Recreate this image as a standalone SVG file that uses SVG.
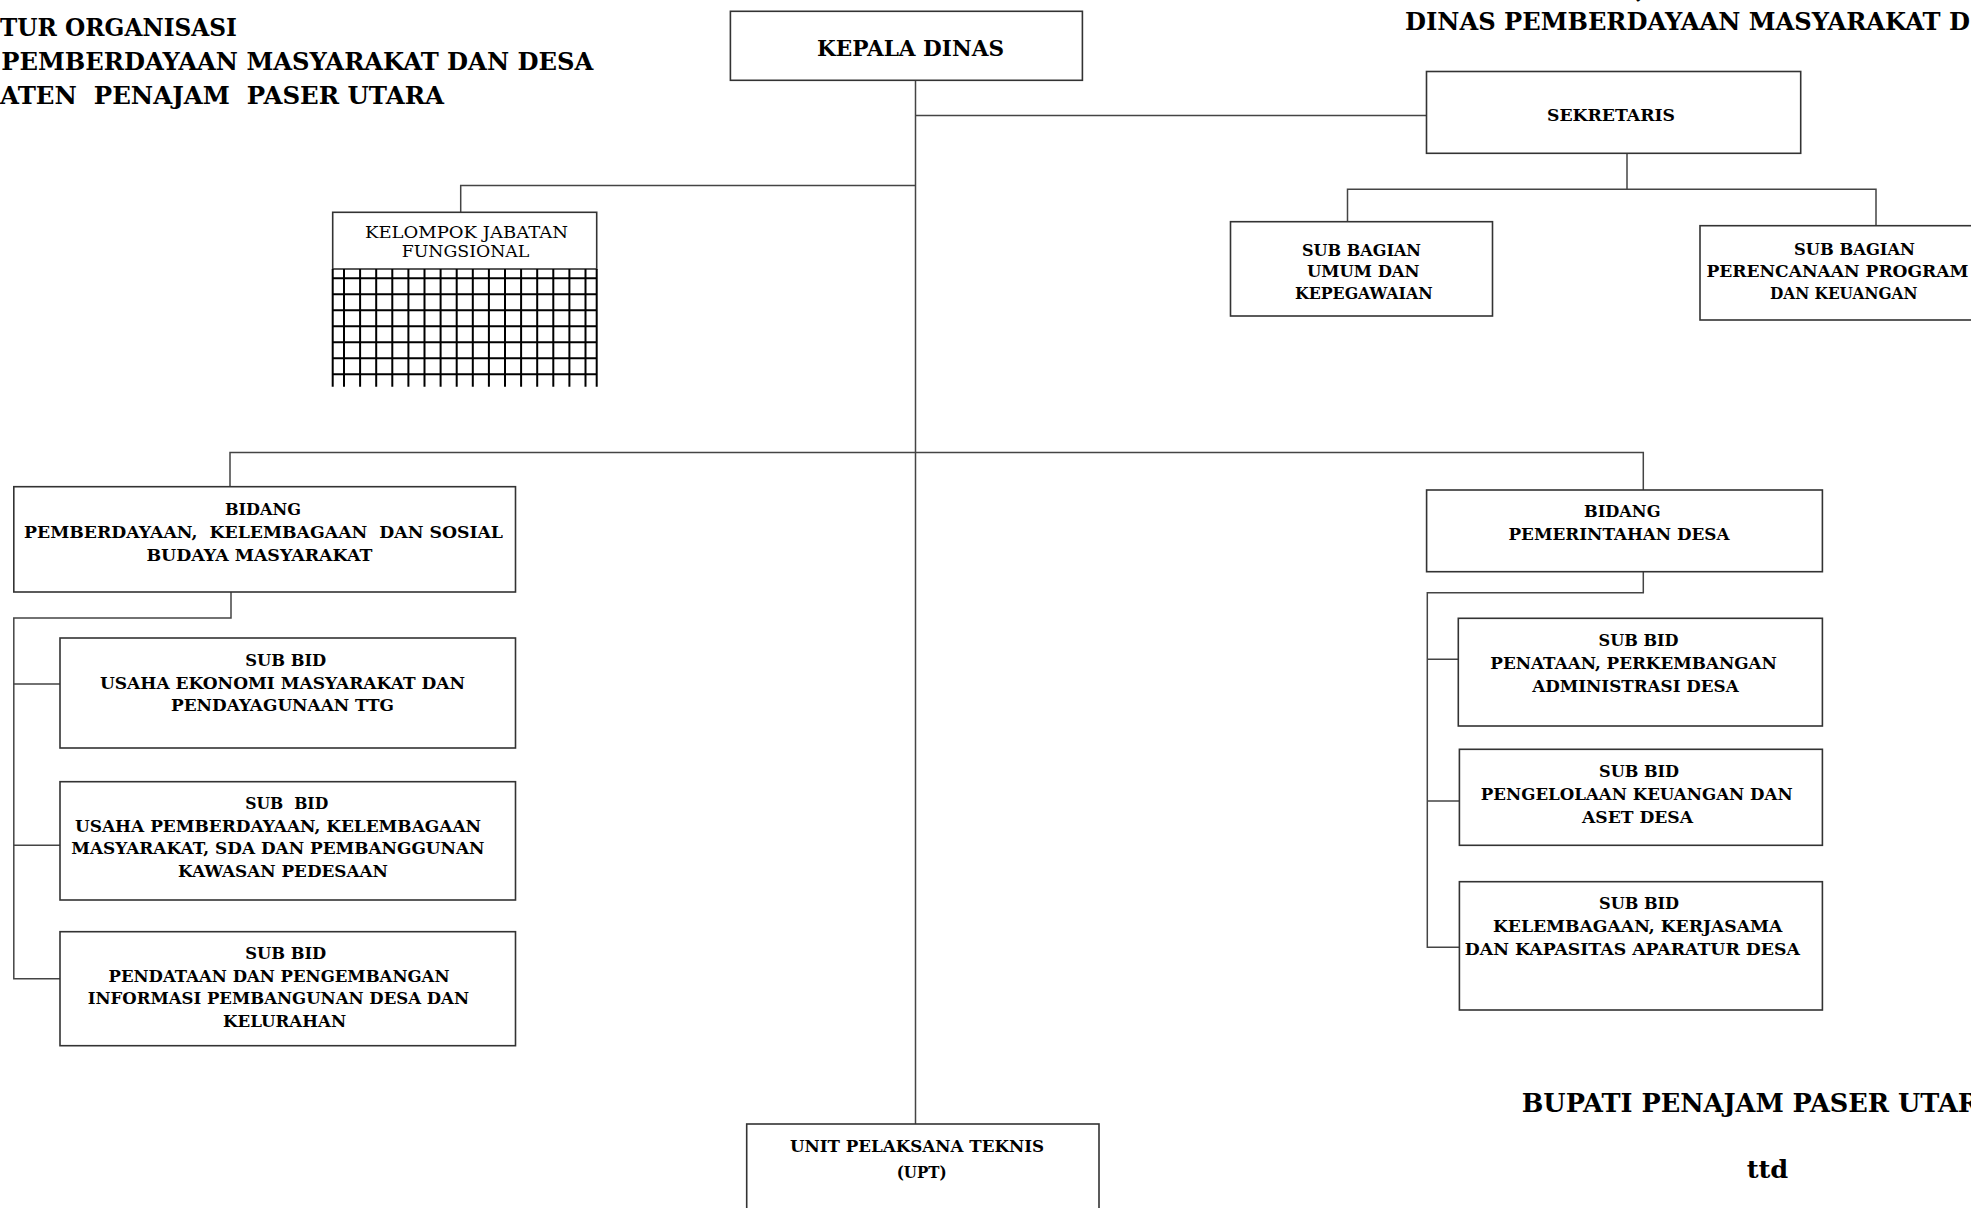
<svg xmlns="http://www.w3.org/2000/svg" width="1971" height="1208" viewBox="0 0 1971 1208">
<style>
  .bg{fill:#fff}
  .box{fill:#fff;stroke:#333;stroke-width:1.6}
  .con{fill:none;stroke:#444;stroke-width:1.5}
  .grid{fill:none;stroke:#000;stroke-width:2}
  text{font-family:"DejaVu Serif","Liberation Serif",serif;fill:#000}
  .b{font-weight:bold;font-size:17px}
  .r{font-weight:normal;font-size:16.5px}
  .t{font-weight:bold;font-size:25px}
  .k{font-weight:bold;font-size:22px}
</style>
<rect class="bg" x="0" y="0" width="1971" height="1208"/>

<g id="titles">
  <text class="t" x="1636" y="-2">,</text>
  <text class="t" x="0" y="36" textLength="237" lengthAdjust="spacingAndGlyphs">TUR ORGANISASI</text>
  <text class="t" x="1.3" y="69.5" textLength="592" lengthAdjust="spacingAndGlyphs">PEMBERDAYAAN MASYARAKAT DAN DESA</text>
  <text class="t" x="0" y="103.5" textLength="444" lengthAdjust="spacingAndGlyphs" xml:space="preserve">ATEN  PENAJAM  PASER UTARA</text>
  <text class="t" x="1405" y="29.5" textLength="565" lengthAdjust="spacingAndGlyphs">DINAS PEMBERDAYAAN MASYARAKAT D</text>
  <text class="t" x="1521.7" y="1112" style="font-size:25.6px">BUPATI PENAJAM PASER UTAR</text>
  <text class="t" x="1746.7" y="1177.5" textLength="41.6" lengthAdjust="spacingAndGlyphs">ttd</text>
</g>

<g id="connectors">
  <path class="con" d="M915.5 80.4 V1124"/>
  <path class="con" d="M915.5 115.6 H1426.5"/>
  <path class="con" d="M915.5 185.5 H460.7 V212.3"/>
  <path class="con" d="M1627 153.3 V189.3"/>
  <path class="con" d="M1347.5 226 V189.3 H1876 V225.7"/>
  <path class="con" d="M230 486.7 V452.5 H1643.3 V490"/>
  <path class="con" d="M231 592 V618 H13.8 V978.7 H60"/>
  <path class="con" d="M13.8 684 H60 M13.8 845.3 H60"/>
  <path class="con" d="M1643.3 571.7 V592.7 H1427.3 V947.3 H1459.4"/>
  <path class="con" d="M1427.3 659.3 H1458.3 M1427.3 801 H1459.4"/>
</g>

<g id="kepala-dinas">
  <rect class="box" x="730.4" y="11.3" width="352" height="69"/>
  <text class="k" x="817" y="56" textLength="187" lengthAdjust="spacingAndGlyphs">KEPALA DINAS</text>
</g>

<g id="sekretaris">
  <rect class="box" x="1426.5" y="71.5" width="374.2" height="81.8"/>
  <text class="b" x="1547" y="121" textLength="128" lengthAdjust="spacingAndGlyphs">SEKRETARIS</text>
</g>

<g id="subbag-umum">
  <rect class="box" x="1230.5" y="221.7" width="262" height="94.3"/>
  <text class="b" x="1302" y="256" textLength="119" lengthAdjust="spacingAndGlyphs">SUB BAGIAN</text>
  <text class="b" x="1307" y="276.7" textLength="112.6" lengthAdjust="spacingAndGlyphs">UMUM DAN</text>
  <text class="b" x="1295" y="299.3" textLength="137.6" lengthAdjust="spacingAndGlyphs">KEPEGAWAIAN</text>
</g>

<g id="subbag-perencanaan">
  <rect class="box" x="1700" y="225.7" width="290" height="94.3"/>
  <text class="b" x="1794" y="255" textLength="121" lengthAdjust="spacingAndGlyphs">SUB BAGIAN</text>
  <text class="b" x="1706.4" y="276.7" textLength="262" lengthAdjust="spacingAndGlyphs">PERENCANAAN PROGRAM</text>
  <text class="b" x="1770" y="299.3" textLength="147.5" lengthAdjust="spacingAndGlyphs">DAN KEUANGAN</text>
</g>

<g id="kelompok-jabatan-fungsional">
  <rect class="box" x="332.7" y="212.3" width="264" height="56.7"/>
  <text class="r" x="365" y="238.3" textLength="203" lengthAdjust="spacingAndGlyphs">KELOMPOK JABATAN</text>
  <text class="r" x="401.7" y="257.3" textLength="127.7" lengthAdjust="spacingAndGlyphs">FUNGSIONAL</text>
  <path class="grid" d="M332.7 269 V386.7 M596.7 269 V386.7
    M344 269 V386.7 M360.1 269 V386.7 M376.2 269 V386.7 M392.3 269 V386.7
    M408.4 269 V386.7 M424.5 269 V386.7 M440.6 269 V386.7 M456.7 269 V386.7
    M472.8 269 V386.7 M488.9 269 V386.7 M505 269 V386.7 M521.1 269 V386.7
    M537.2 269 V386.7 M553.3 269 V386.7 M569.4 269 V386.7 M585.5 269 V386.7
    M332.7 278.3 H596.7 M332.7 294.3 H596.7 M332.7 310.3 H596.7 M332.7 326.3 H596.7
    M332.7 342.3 H596.7 M332.7 358.3 H596.7 M332.7 374.3 H596.7"/>
</g>

<g id="bidang-pemberdayaan">
  <rect class="box" x="13.8" y="486.7" width="501.7" height="105.3"/>
  <text class="b" x="225" y="515" textLength="76" lengthAdjust="spacingAndGlyphs">BIDANG</text>
  <text class="b" x="24" y="538.3" textLength="479" lengthAdjust="spacingAndGlyphs" xml:space="preserve">PEMBERDAYAAN,  KELEMBAGAAN  DAN SOSIAL</text>
  <text class="b" x="146.4" y="560.7" textLength="226" lengthAdjust="spacingAndGlyphs">BUDAYA MASYARAKAT</text>
</g>

<g id="subbid-usaha-ekonomi">
  <rect class="box" x="60" y="638" width="455.5" height="110"/>
  <text class="b" x="245.2" y="666" textLength="81" lengthAdjust="spacingAndGlyphs">SUB BID</text>
  <text class="b" x="100" y="689" textLength="365" lengthAdjust="spacingAndGlyphs">USAHA EKONOMI MASYARAKAT DAN</text>
  <text class="b" x="171" y="711" textLength="223" lengthAdjust="spacingAndGlyphs">PENDAYAGUNAAN TTG</text>
</g>

<g id="subbid-usaha-pemberdayaan">
  <rect class="box" x="60" y="781.7" width="455.5" height="118.3"/>
  <text class="b" x="245.2" y="809.3" textLength="83" lengthAdjust="spacingAndGlyphs" xml:space="preserve">SUB  BID</text>
  <text class="b" x="75" y="831.7" textLength="406" lengthAdjust="spacingAndGlyphs">USAHA PEMBERDAYAAN, KELEMBAGAAN</text>
  <text class="b" x="71.3" y="854.3" textLength="413.2" lengthAdjust="spacingAndGlyphs">MASYARAKAT, SDA DAN PEMBANGGUNAN</text>
  <text class="b" x="178" y="877.3" textLength="210" lengthAdjust="spacingAndGlyphs">KAWASAN PEDESAAN</text>
</g>

<g id="subbid-pendataan">
  <rect class="box" x="60" y="931.7" width="455.5" height="114"/>
  <text class="b" x="245.2" y="959.3" textLength="81" lengthAdjust="spacingAndGlyphs">SUB BID</text>
  <text class="b" x="108.5" y="981.7" textLength="341" lengthAdjust="spacingAndGlyphs">PENDATAAN DAN PENGEMBANGAN</text>
  <text class="b" x="87.8" y="1004.3" textLength="381.2" lengthAdjust="spacingAndGlyphs">INFORMASI PEMBANGUNAN DESA DAN</text>
  <text class="b" x="223.1" y="1027.3" textLength="123" lengthAdjust="spacingAndGlyphs">KELURAHAN</text>
</g>

<g id="bidang-pemerintahan-desa">
  <rect class="box" x="1426.6" y="490" width="395.8" height="81.7"/>
  <text class="b" x="1584" y="516.7" textLength="76.5" lengthAdjust="spacingAndGlyphs">BIDANG</text>
  <text class="b" x="1508.5" y="540" textLength="221" lengthAdjust="spacingAndGlyphs">PEMERINTAHAN DESA</text>
</g>

<g id="subbid-penataan">
  <rect class="box" x="1458.3" y="618.3" width="364.1" height="107.7"/>
  <text class="b" x="1598.5" y="645.7" textLength="80" lengthAdjust="spacingAndGlyphs">SUB BID</text>
  <text class="b" x="1490.3" y="669" textLength="286.6" lengthAdjust="spacingAndGlyphs">PENATAAN, PERKEMBANGAN</text>
  <text class="b" x="1532.2" y="692.3" textLength="206.5" lengthAdjust="spacingAndGlyphs">ADMINISTRASI DESA</text>
</g>

<g id="subbid-pengelolaan-keuangan">
  <rect class="box" x="1459.4" y="749.3" width="363" height="96"/>
  <text class="b" x="1599" y="776.7" textLength="80" lengthAdjust="spacingAndGlyphs">SUB BID</text>
  <text class="b" x="1480.8" y="800" textLength="311.8" lengthAdjust="spacingAndGlyphs">PENGELOLAAN KEUANGAN DAN</text>
  <text class="b" x="1582" y="822.7" textLength="111" lengthAdjust="spacingAndGlyphs">ASET DESA</text>
</g>

<g id="subbid-kelembagaan">
  <rect class="box" x="1459.4" y="881.7" width="363" height="128.3"/>
  <text class="b" x="1599" y="909.3" textLength="80" lengthAdjust="spacingAndGlyphs">SUB BID</text>
  <text class="b" x="1492.9" y="931.7" textLength="289.5" lengthAdjust="spacingAndGlyphs">KELEMBAGAAN, KERJASAMA</text>
  <text class="b" x="1464.8" y="955" textLength="335" lengthAdjust="spacingAndGlyphs">DAN KAPASITAS APARATUR DESA</text>
</g>

<g id="upt">
  <rect class="box" x="746.7" y="1124" width="352.3" height="100"/>
  <text class="b" x="790" y="1152.3" textLength="254" lengthAdjust="spacingAndGlyphs">UNIT PELAKSANA TEKNIS</text>
  <text class="b" x="896.7" y="1178.3" textLength="50" lengthAdjust="spacingAndGlyphs">(UPT)</text>
</g>
</svg>
